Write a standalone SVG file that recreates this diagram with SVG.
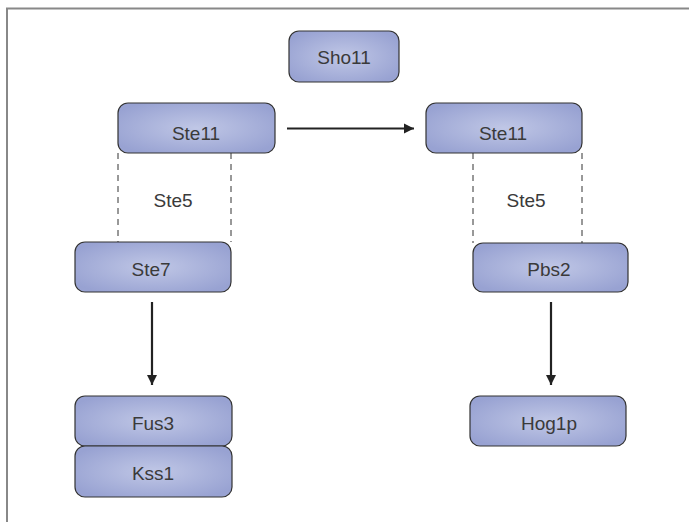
<svg xmlns="http://www.w3.org/2000/svg" width="689" height="522" viewBox="0 0 689 522">
<defs>
<radialGradient id="g" cx="50%" cy="50%" r="60%">
<stop offset="0" stop-color="#c0c7e6"/>
<stop offset="1" stop-color="#98a2d2"/>
</radialGradient>
<marker id="ah" viewBox="0 0 10 12" refX="10" refY="6" markerWidth="10" markerHeight="12" markerUnits="userSpaceOnUse" orient="auto">
<path d="M0,1 L10,6 L0,11 Z" fill="#222"/>
</marker>
<style>
.box{fill:url(#g);stroke:#333;stroke-width:1.2}
.t{font-family:"Liberation Sans",Arial,sans-serif;font-size:19px;fill:#3a3a3a;text-anchor:middle}
.dash{stroke:#333;stroke-width:1;stroke-dasharray:6,5;fill:none}
.arr{stroke:#222;stroke-width:2.2;fill:none;marker-end:url(#ah)}
</style>
</defs>
<rect width="689" height="522" fill="#fff"/>
<path d="M7,522 V8.5 H689" fill="none" stroke="#888" stroke-width="2"/>
<g id="connectors">
<line class="arr" x1="287" y1="128.5" x2="414" y2="128.5"/>
<line class="arr" x1="152" y1="302" x2="152" y2="385"/>
<line class="arr" x1="551" y1="302" x2="551" y2="385"/>
<line class="dash" x1="118" y1="153" x2="118" y2="242"/>
<line class="dash" x1="231" y1="153" x2="231" y2="242"/>
<line class="dash" x1="473" y1="153" x2="473" y2="243"/>
<line class="dash" x1="582" y1="153" x2="582" y2="243"/>
</g>
<g id="sho11"><rect class="box" x="289" y="31" width="110" height="51" rx="10"/><text class="t" x="344" y="64">Sho11</text></g>
<g id="ste11-left"><rect class="box" x="118" y="103" width="157" height="50" rx="10"/><text class="t" x="196" y="140">Ste11</text></g>
<g id="ste11-right"><rect class="box" x="426" y="103" width="156" height="50" rx="10"/><text class="t" x="503" y="140">Ste11</text></g>
<g id="ste5-left"><text class="t" x="173" y="207">Ste5</text></g>
<g id="ste5-right"><text class="t" x="526" y="207">Ste5</text></g>
<g id="ste7"><rect class="box" x="75" y="242" width="156" height="50" rx="10"/><text class="t" x="151" y="276">Ste7</text></g>
<g id="pbs2"><rect class="box" x="473" y="243" width="155" height="49" rx="10"/><text class="t" x="549" y="276">Pbs2</text></g>
<g id="fus3"><rect class="box" x="75" y="396" width="157" height="50" rx="10"/><text class="t" x="153" y="430">Fus3</text></g>
<g id="kss1"><rect class="box" x="75" y="446" width="157" height="51" rx="10"/><text class="t" x="153" y="480">Kss1</text></g>
<g id="hog1p"><rect class="box" x="470" y="396" width="156" height="50" rx="10"/><text class="t" x="549" y="430">Hog1p</text></g>
</svg>
